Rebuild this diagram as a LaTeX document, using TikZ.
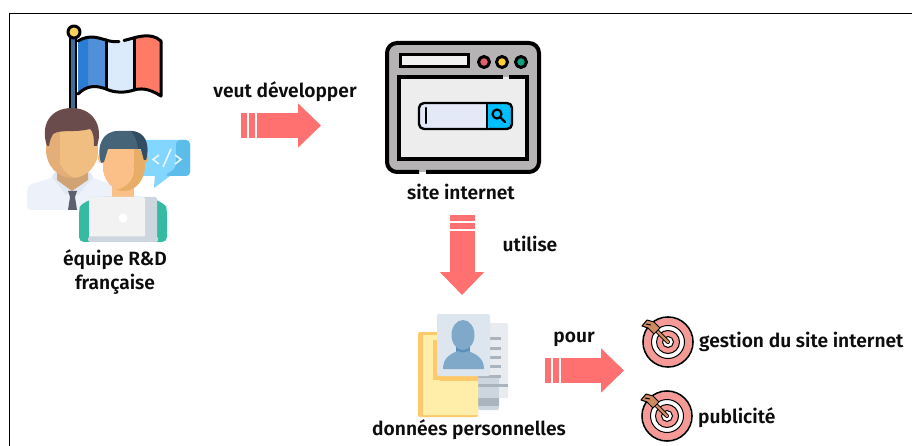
\documentclass[tikz,border=0pt]{standalone}
\usepackage{fontspec}
\setmainfont{Fira Sans}[UprightFont={* SemiBold}]
\usepackage{tikz}
\usetikzlibrary{arrows.meta}
\definecolor{pinkarrow}{HTML}{FF7070}
\definecolor{skinA}{HTML}{F0BE80}
\definecolor{skinAd}{HTML}{E3AE78}
\definecolor{skinB}{HTML}{FBC088}
\definecolor{skinBd}{HTML}{E8AE68}
\definecolor{ringpink}{HTML}{F59A96}
\definecolor{shaft}{HTML}{CE8C5E}
\definecolor{paperline}{HTML}{AAB4BE}
\definecolor{laptopgrey}{HTML}{CDD6DE}
\tikzstyle{lbl} = [font=\fontsize{19.2}{24}\selectfont, align=center, inner sep=0pt, text=black!95]
\tikzstyle{lblleft} = [lbl, anchor=west]
\tikzstyle{bigarrow} = [draw=pinkarrow, line width=25pt, dash pattern=on 6pt off 2pt on 6pt off 2pt on 200pt, -{Triangle[length=23pt,width=43pt]}]
\tikzstyle{ink} = [draw=black, line width=3pt, line cap=round, line join=round]
\tikzset{
  target/.pic={
    \fill[ringpink] (0,0) circle[radius=24];
    \draw[black, line width=1.6pt] (0,0) circle[radius=25];
    \fill[white] (0,0) circle[radius=16.5];
    \draw[black, line width=1pt] (0,0) circle[radius=16.5];
    \fill[ringpink] (0,0) circle[radius=11.5];
    \draw[black, line width=1pt] (0,0) circle[radius=11.5];
    \fill[white] (0,0) circle[radius=5.5];
    \draw[black, line width=1pt] (0,0) circle[radius=5.5];
    \draw[black, line width=4pt, line cap=round] (0,0) -- (-15,-15);
    \draw[shaft, line width=2.4pt, line cap=round] (0,0) -- (-15,-15);
    \fill[shaft, draw=black, line width=1pt, line join=round] (-14,-20) -- (-8,-14) -- (-14,-8) -- (-20,-14) -- (-26,-16) -- (-21,-22) -- cycle;
    \draw[black, line width=1pt] (-17,-17) -- (-22,-18);
  }
}
\begin{document}
\begin{tikzpicture}[x=1pt,y=-1pt]
    \useasboundingbox (0,0) rectangle (912,446);
    \draw[black, line width=1pt] (9.5,446) -- (9.5,13.5) -- (912,13.5);

    % flag
    \fill[black] (69,38) rectangle (77,112);
    \fill[fill={rgb,255:red,63;green,109;blue,149}] (71,38) rectangle (75,112);
    \draw[ink, fill={rgb,255:red,255;green,208;blue,90}] (74,32) circle[radius=6];
    \fill[fill={rgb,255:red,80;green,144;blue,216}] (78,41) .. controls (90,34) and (98,38) .. (106,40) -- (106,88) .. controls (98,86) and (88,84) .. (78,94) -- cycle;
    \fill[fill={rgb,255:red,44;green,125;blue,212}] (78,41) .. controls (81,39) and (85,38) .. (88,38) -- (88,87) .. controls (85,88) and (81,90) .. (78,94) -- cycle;
    \fill[fill={rgb,255:red,220;green,235;blue,252}] (106,40) .. controls (115,43) and (125,42) .. (134,39) -- (134,90) .. controls (125,93) and (115,93) .. (106,89) -- cycle;
    \fill[fill={rgb,255:red,255;green,123;blue,102}] (134,39) .. controls (145,34) and (155,37) .. (161,41) -- (161,96) .. controls (153,91) and (144,87) .. (134,90) -- cycle;
    \draw[ink] (78,41) .. controls (90,34) and (98,38) .. (106,40) .. controls (110,41.5) and (115,42) .. (119,41.5);
    \draw[ink] (124,40.5) .. controls (135,38) and (150,31) .. (161,41) -- (161,96) .. controls (153,91) and (144,87) .. (134,90) .. controls (125,93) and (115,93) .. (106,89) .. controls (98,86) and (88,84) .. (78,94);
    \draw[ink] (106,40) -- (106,89) (134,39) -- (134,90);

    % man with tie
    \fill[fill={rgb,255:red,236;green,241;blue,250}, rounded corners=4pt] (27,210) -- (27,190) .. controls (30,183) and (45,181) .. (55,176) -- (90,176) .. controls (100,181) and (110,183) .. (120,190) -- (120,210) -- cycle;
    \fill[fill={rgb,255:red,225;green,231;blue,243}] (52,177) -- (66,195) -- (72,190) -- (78,195) -- (93,177) -- (90,172) -- (55,172) -- cycle;
    \fill[fill={rgb,255:red,207;green,163;blue,115}] (57,165) -- (88,165) -- (88,180) -- (72,191) -- (57,180) -- cycle;
    \fill[fill={rgb,255:red,93;green,94;blue,110}] (68,191) -- (77,191) -- (75,197) -- (77,210) -- (68,210) -- (70,197) -- cycle;
    \begin{scope}
        \clip (72,150) ellipse[x radius=26, y radius=28];
        \fill[skinAd] (46,120) rectangle (98,180);
        \fill[skinA] (60,120) rectangle (98,165);
        \fill[skinA] (79,158) ellipse[x radius=19, y radius=20];
    \end{scope}
    \fill[fill={rgb,255:red,107;green,76;blue,76}] (47,146) .. controls (40,125) and (50,108) .. (72,108) .. controls (92,108) and (104,125) .. (97,146) -- (94,146) .. controls (94,136) and (93,132) .. (90,129) .. controls (75,133) and (60,129) .. (53,134) .. controls (51,137) and (50,140) .. (49,146) -- cycle;

    % man with laptop
    \fill[fill={rgb,255:red,131;green,214;blue,255}, rounded corners=4pt] (140,140) -- (190,140) -- (190,176) -- (140,176) -- cycle;
    \fill[fill={rgb,255:red,92;green,188;blue,234}, rounded corners=4pt] (176,140) -- (190,140) -- (190,176) -- (164,176) -- (176,168) -- cycle;
    \fill[fill={rgb,255:red,131;green,214;blue,255}] (155,174) -- (154,188) -- (170,176) -- cycle;
    \draw[white!90!cyan, line width=1.6pt] (159,155) -- (153,159.5) -- (159,164) (163,167) -- (171,149) (175,155) -- (181,159.5) -- (175,164);
    \fill[fill={rgb,255:red,52;green,187;blue,162}, rounded corners=5pt] (79,242) -- (79,212) .. controls (80,205) and (88,200) .. (100,197) -- (146,197) .. controls (158,200) and (166,205) .. (167,212) -- (167,242) -- cycle;
    \fill[skinB] (112,180) rectangle (134,199);
    \fill[skinB] (103,158) circle[radius=5.5];
    \fill[skinBd] (143,158) circle[radius=5.5];
    \begin{scope}
        \clip (124,166) ellipse[x radius=21, y radius=25];
        \fill[skinBd] (100,135) rectangle (150,195);
        \fill[skinB] (100,135) rectangle (134,165);
        \fill[skinB] (112,170) ellipse[x radius=22, y radius=20];
    \end{scope}
    \fill[fill={rgb,255:red,69;green,100;blue,120}] (101,163) .. controls (96,145) and (103,131) .. (118,131) -- (132,131) .. controls (146,132) and (150,145) .. (146,160) -- (144,160) -- (141,149) -- (108,149) -- (104,162) -- cycle;
    \fill[fill={rgb,255:red,52;green,76;blue,96}] (131,131) .. controls (146,132) and (150,145) .. (146,160) -- (144,160) -- (141,149) -- (138,149) .. controls (137,140) and (135,136) .. (131,131) -- cycle;
    \fill[laptopgrey, rounded corners=2pt] (89,197) rectangle (157,238);
    \fill[fill={rgb,255:red,242;green,242;blue,242}, rounded corners=2pt] (89,197) rectangle (145,238);
    \fill[white] (123,218) circle[radius=4.5];
    \fill[laptopgrey, rounded corners=1.5pt] (88,236.5) rectangle (158,242);

    % browser
    \fill[fill={rgb,255:red,181;green,179;blue,179}, rounded corners=10pt] (387,43) rectangle (539,172);
    \draw[ink, line cap=butt, line width=4pt, rounded corners=10pt] (419,172) -- (387,172) -- (387,43) -- (539,43) -- (539,172) -- (426,172);
    \fill[fill={rgb,255:red,238;green,237;blue,237}] (399,77) rectangle (527,159);
    \draw[ink, line cap=butt, line width=4pt, line join=miter] (503,77) -- (399,77) -- (399,159) -- (527,159) -- (527,77) -- (509,77);
    \draw[ink, line join=miter, fill={rgb,255:red,242;green,242;blue,242}] (400,55) rectangle (468,67);
    \draw[ink, fill={rgb,255:red,224;green,96;blue,106}] (484,62) circle[radius=5.5];
    \draw[ink, fill={rgb,255:red,255;green,208;blue,48}] (502,62) circle[radius=5.5];
    \draw[ink, fill={rgb,255:red,16;green,160;blue,128}] (521,62) circle[radius=5.5];
    \fill[fill={rgb,255:red,228;green,233;blue,247}, rounded corners=5pt] (419,103) rectangle (512,129);
    \fill[fill={rgb,255:red,0;green,192;blue,255}, rounded corners=5pt] (487,103) -- (512,103) -- (512,129) -- (487,129) [sharp corners] -- cycle;
    \draw[ink, line width=2.4pt, rounded corners=5pt] (419,103) rectangle (512,129);
    \draw[ink, line width=2.4pt] (487,103) -- (487,129);
    \draw[ink, line width=2.4pt] (426,108) -- (426,123);
    \draw[ink, line width=2.2pt] (497,114) circle[radius=4.5] (500.5,117.5) -- (505,122);

    % documents
    \fill[fill={rgb,255:red,232;green,235;blue,240}, rounded corners=2pt] (480,323) rectangle (508,398);
    \fill[laptopgrey, rounded corners=2pt] (478,375) rectangle (499,410);
    \fill[paperline] (478,398) rectangle (499,406);
    \fill[fill={rgb,255:red,232;green,235;blue,240}] (499,386) rectangle (508,398);
    \foreach \ypos in {338,348,357,366} {
        \fill[paperline] (490,\ypos-1.5) rectangle (501,\ypos+1.5);
    }
    \fill[paperline] (478,374.5) rectangle (501,377.5);
    \fill[paperline] (478,383.5) rectangle (508,386.5);
    \fill[fill={rgb,255:red,253;green,201;blue,107}, rounded corners=2pt] (418,332) rectangle (478,417);
    \fill[fill={rgb,255:red,255;green,237;blue,170}] (423,335) -- (440,335) -- (440,381) -- (478,381) -- (478,415) -- (423,415) -- cycle;
    \fill[fill={rgb,255:red,253;green,201;blue,107}] (433,340) rectangle (478,380);
    \fill[fill={rgb,255:red,221;green,230;blue,239}, rounded corners=2pt] (437,314) rectangle (490,376);
    \fill[fill={rgb,255:red,90;green,143;blue,187}] (456,345) rectangle (470,356);
    \fill[fill={rgb,255:red,127;green,168;blue,201}] (443,369) .. controls (443,358) and (450,354) .. (458,351) .. controls (461,353) and (465,353) .. (468,351) .. controls (476,354) and (484,358) .. (484,369) -- cycle;
    \fill[fill={rgb,255:red,127;green,168;blue,201}] (463,335) ellipse[x radius=11.5, y radius=15];

    % targets
    \pic at (668,342) {target};
    \pic at (667,416) {target};

    % arrows
    \coordinate (TeamEnd) at (241,125.5);
    \coordinate (SiteStart) at (321,125.5);
    \coordinate (SiteEnd) at (462,215);
    \coordinate (DataStart) at (462,295);
    \coordinate (DataEnd) at (545,370.5);
    \coordinate (GoalStart) at (624,370.5);
    \draw[bigarrow] (TeamEnd) -- (SiteStart);
    \draw[bigarrow] (SiteEnd) -- (DataStart);
    \draw[bigarrow] (DataEnd) -- (GoalStart);

    % labels
    \node[lbl] (Veut) at (285,92) {veut développer};
    \node[lbl] (Site) at (461,192) {site internet};
    \node[lbl] (Utilise) at (530,244) {utilise};
    \node[lbl] (Team) at (115,272) {équipe R\&D\\française};
    \node[lbl] (Data) at (469,430) {données personnelles};
    \node[lbl] (Pour) at (574,339) {pour};
    \node[lblleft] (Gestion) at (699,342) {gestion du site internet};
    \node[lblleft] (Pub) at (698,418) {publicité};
\end{tikzpicture}
\end{document}
